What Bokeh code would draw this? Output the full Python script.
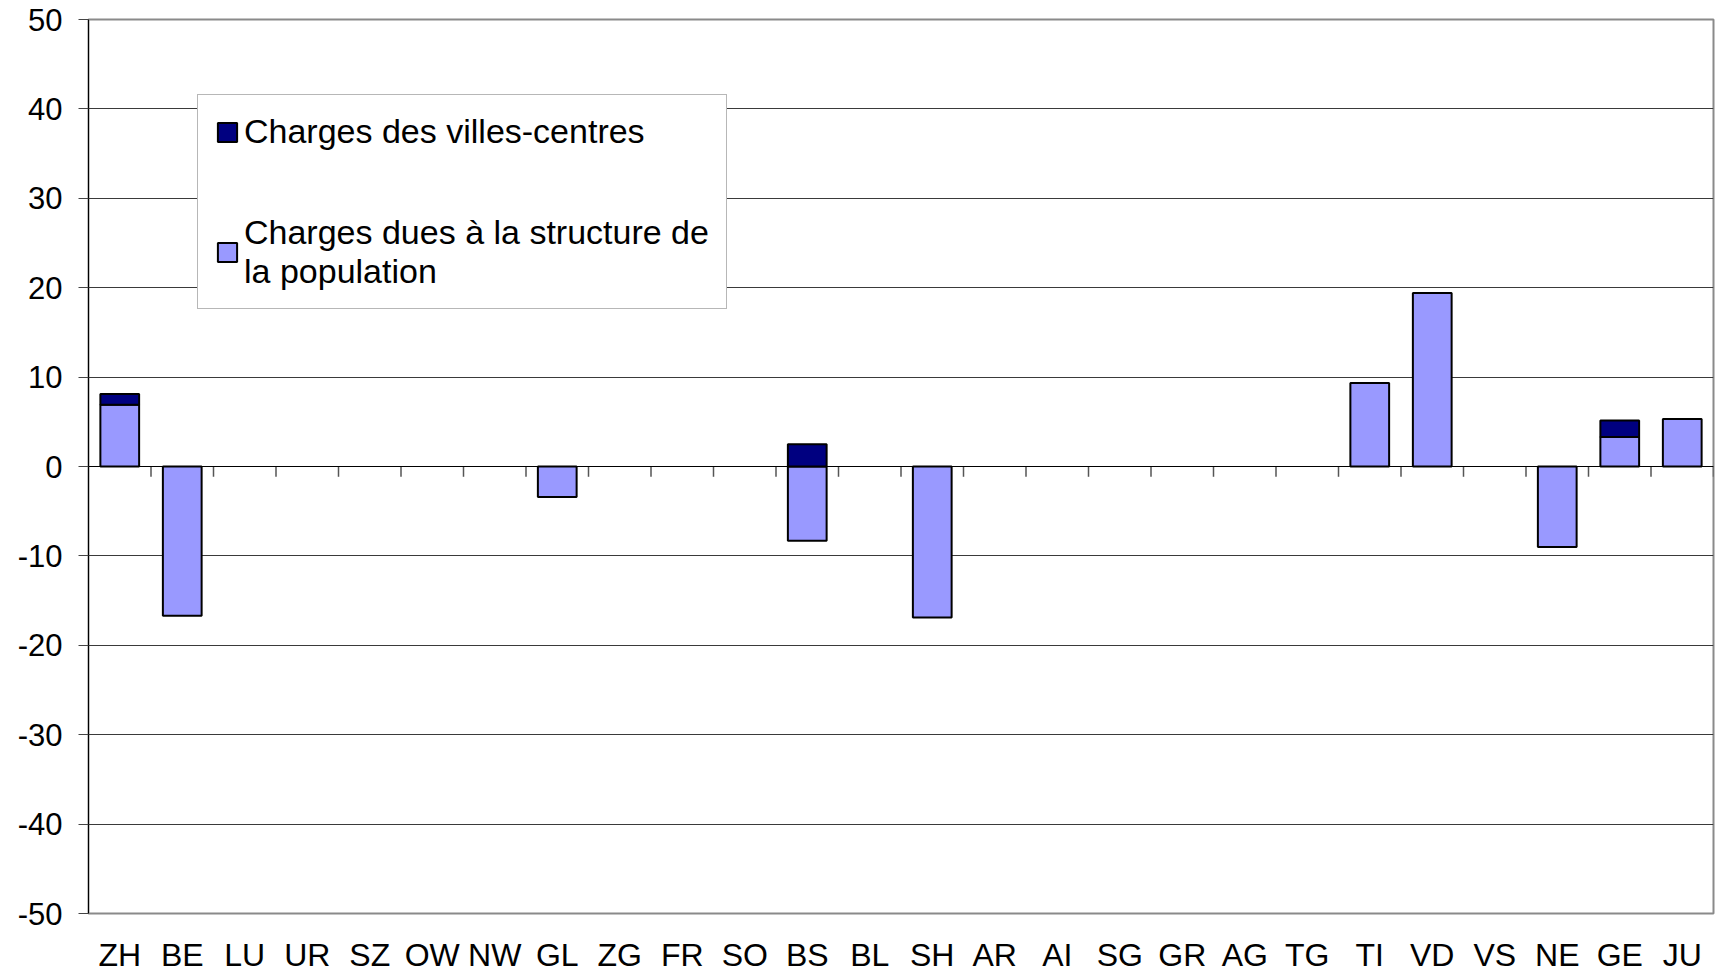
import numpy as np
from bokeh.plotting import figure
from bokeh.models import (FactorRange, Range1d, Span, Legend, LegendItem,
                          SingleIntervalTicker, ColumnDataSource, PrintfTickFormatter)
from bokeh.transform import dodge
from bokeh.embed import file_html
from bokeh.resources import INLINE

# ---- data ----
cantons = ["ZH", "BE", "LU", "UR", "SZ", "OW", "NW", "GL", "ZG", "FR", "SO", "BS", "BL",
           "SH", "AR", "AI", "SG", "GR", "AG", "TG", "TI", "VD", "VS", "NE", "GE", "JU"]
structure_pop = [6.9, -16.7, 0, 0, 0, 0, 0, -3.4, 0, 0, 0, -8.3, 0,
                 -16.9, 0, 0, 0, 0, 0, 0, 9.35, 19.4, 0, -9.0, 3.3, 5.3]
villes_centres = [1.2, 0, 0, 0, 0, 0, 0, 0, 0, 0, 0, 2.5, 0,
                  0, 0, 0, 0, 0, 0, 0, 0, 0, 0, 0, 1.85, 0]
series_names = ["Charges des villes-centres",
                "Charges dues à la structure de\nla population"]

FONT = "Liberation Sans"
LIGHT = "#9999FF"
DARK = "#000080"

s = np.array(structure_pop, dtype=float)
v = np.array(villes_centres, dtype=float)
v_bottom = np.where(s > 0, s, 0.0)

src_s = ColumnDataSource(dict(x=[c for c, val in zip(cantons, s) if val != 0],
                              top=[val for val in s if val != 0]))
src_v = ColumnDataSource(dict(x=[c for c, val in zip(cantons, v) if val != 0],
                              bottom=[b for b, val in zip(v_bottom, v) if val != 0],
                              top=[b + val for b, val in zip(v_bottom, v) if val != 0]))
src_t = ColumnDataSource(dict(x=cantons))

p = figure(width=1716, height=975, output_backend="svg", toolbar_location=None,
           x_range=FactorRange(*cantons), y_range=Range1d(-50, 50),
           min_border_left=88, min_border_right=3, min_border_top=19,
           min_border_bottom=10)

p.background_fill_color = "white"
p.border_fill_color = "white"
p.outline_line_color = "#8a8a8a"
p.outline_line_width = 2

p.xgrid.grid_line_color = None
p.ygrid.grid_line_color = "#3a3a3a"
p.ygrid.grid_line_width = 1

# zero line with category-boundary ticks
p.add_layout(Span(location=0, dimension="width", line_color="black", line_width=1.2))
p.segment(x0=dodge("x", 0.5, range=p.x_range), x1=dodge("x", 0.5, range=p.x_range),
          y0=0, y1=-1.15, source=src_t, line_color="#555555", line_width=1.5)

r_s = p.vbar(x="x", top="top", bottom=0, width=0.62, source=src_s,
             fill_color=LIGHT, line_color="black", line_width=2)
r_v = p.vbar(x="x", top="top", bottom="bottom", width=0.62, source=src_v,
             fill_color=DARK, line_color="black", line_width=2)

# y axis
yax = p.yaxis[0]
yax.ticker = SingleIntervalTicker(interval=10)
yax.formatter = PrintfTickFormatter(format="%d")
yax.axis_line_color = "black"
yax.axis_line_width = 1
yax.major_tick_out = 10
yax.major_tick_in = 0
yax.major_tick_line_color = "#444444"
yax.minor_tick_line_color = None
yax.major_label_text_font = FONT
yax.major_label_text_font_size = "31px"
yax.major_label_text_color = "black"
yax.major_label_standoff = 16

# x axis
xax = p.xaxis[0]
xax.axis_line_color = None
xax.major_tick_line_color = None
xax.minor_tick_line_color = None
xax.major_label_text_font = FONT
xax.major_label_text_font_size = "32px"
xax.major_label_text_color = "black"
xax.major_label_text_line_height = 1.0
xax.major_label_standoff = 17

legend = Legend(items=[LegendItem(label=series_names[0], renderers=[r_v]),
                       LegendItem(label=series_names[1], renderers=[r_s])],
                location=(109, 604))
legend.label_text_font = FONT
legend.label_text_font_size = "34px"
legend.label_text_color = "black"
legend.label_text_line_height = 1.1
legend.glyph_width = 24
legend.glyph_height = 24
legend.label_standoff = 5
legend.spacing = 62
legend.padding = 17
legend.margin = 0
legend.border_line_color = "#707070"
legend.border_line_width = 1
legend.background_fill_color = "white"
legend.background_fill_alpha = 1
p.add_layout(legend, "center")

open("out.html", "w").write(file_html(p, INLINE))
